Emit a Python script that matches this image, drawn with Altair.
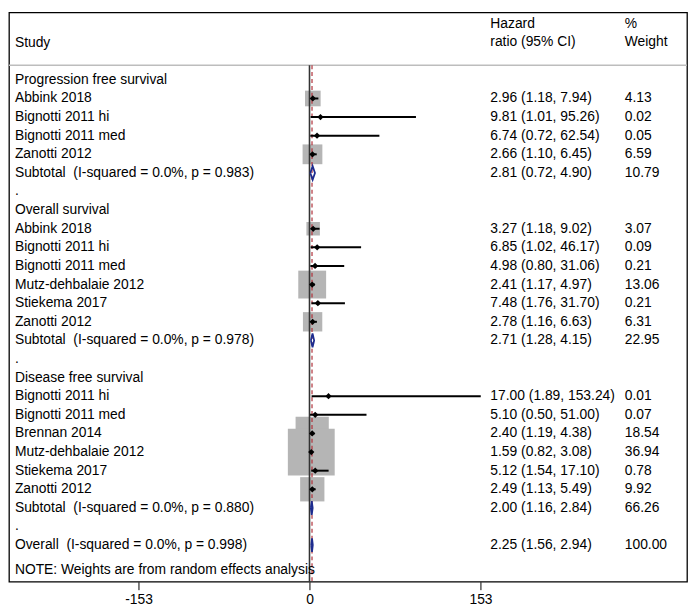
import altair as alt
import pandas as pd

groups = ["Progression free survival", "Overall survival", "Disease free survival"]

pfs_study = ["Abbink 2018", "Bignotti 2011 hi", "Bignotti 2011 med", "Zanotti 2012"]
pfs_hr = [2.96, 9.81, 6.74, 2.66]
pfs_lo = [1.18, 1.01, 0.72, 1.10]
pfs_hi = [7.94, 95.26, 62.54, 6.45]
pfs_wt = [4.13, 0.02, 0.05, 6.59]

os_study = ["Abbink 2018", "Bignotti 2011 hi", "Bignotti 2011 med",
            "Mutz-dehbalaie 2012", "Stiekema 2017", "Zanotti 2012"]
os_hr = [3.27, 6.85, 4.98, 2.41, 7.48, 2.78]
os_lo = [1.18, 1.02, 0.80, 1.17, 1.76, 1.16]
os_hi = [9.02, 46.17, 31.06, 4.97, 31.70, 6.63]
os_wt = [3.07, 0.09, 0.21, 13.06, 0.21, 6.31]

dfs_study = ["Bignotti 2011 hi", "Bignotti 2011 med", "Brennan 2014",
             "Mutz-dehbalaie 2012", "Stiekema 2017", "Zanotti 2012"]
dfs_hr = [17.00, 5.10, 2.40, 1.59, 5.12, 2.49]
dfs_lo = [1.89, 0.50, 1.19, 0.82, 1.54, 1.13]
dfs_hi = [153.24, 51.00, 4.38, 3.08, 17.10, 5.49]
dfs_wt = [0.01, 0.07, 18.54, 36.94, 0.78, 9.92]

sub_hr = [2.81, 2.71, 2.00]
sub_lo = [0.72, 1.28, 1.16]
sub_hi = [4.90, 4.15, 2.84]
sub_wt = [10.79, 22.95, 66.26]
sub_i2 = ["0.0%", "0.0%", "0.0%"]
sub_p = ["0.983", "0.978", "0.880"]

overall_vals = [2.25, 1.56, 2.94, 100.00]
overall_i2 = "0.0%"
overall_p = "0.998"

x_ticks = [-153, 0, 153]
note_text = "NOTE: Weights are from random effects analysis"

# ---------------- build table ----------------
group_data = [
    (pfs_study, pfs_hr, pfs_lo, pfs_hi, pfs_wt),
    (os_study, os_hr, os_lo, os_hi, os_wt),
    (dfs_study, dfs_hr, dfs_lo, dfs_hi, dfs_wt),
]
NB = "\u00a0"
rows = []
r = 0
for g, (names, hr, lo, hi, wt) in enumerate(group_data):
    rows.append(dict(r=r, label=groups[g], kind="head"))
    r += 1
    for i in range(len(names)):
        rows.append(dict(r=r, label=names[i], kind="study", est=hr[i], lo=lo[i], hi=hi[i], w=wt[i],
                         hr_text=f"{hr[i]:.2f} ({lo[i]:.2f}, {hi[i]:.2f})", w_text=f"{wt[i]:.2f}"))
        r += 1
    rows.append(dict(r=r, label=f"Subtotal{NB} (I-squared = {sub_i2[g]}, p = {sub_p[g]})", kind="sum",
                     est=sub_hr[g], lo=sub_lo[g], hi=sub_hi[g], w=sub_wt[g],
                     hr_text=f"{sub_hr[g]:.2f} ({sub_lo[g]:.2f}, {sub_hi[g]:.2f})", w_text=f"{sub_wt[g]:.2f}"))
    r += 1
    rows.append(dict(r=r, label=".", kind="blank"))
    r += 1
ov_hr, ov_lo, ov_hi, ov_w = overall_vals
rows.append(dict(r=r, label=f"Overall{NB} (I-squared = {overall_i2}, p = {overall_p})", kind="sum",
                 est=ov_hr, lo=ov_lo, hi=ov_hi, w=ov_w,
                 hr_text=f"{ov_hr:.2f} ({ov_lo:.2f}, {ov_hi:.2f})", w_text=f"{ov_w:.2f}"))
r += 1
rows.append(dict(r=r + 0.33, label=note_text, kind="note"))

df = pd.DataFrame(rows)
df["hr_text"] = df["hr_text"].fillna("")
df["w_text"] = df["w_text"].fillna("")
study_df = df[df.kind == "study"].copy()
study_df["sz"] = study_df["w"] * 60.8
sum_df = df[df.kind == "sum"]

dpts = []
for k, row in enumerate(sum_df.itertuples()):
    h = 0.37
    pts = [(row.lo, row.r), (row.est, row.r - h), (row.hi, row.r), (row.est, row.r + h), (row.lo, row.r)]
    for o, (xx, yy) in enumerate(pts):
        dpts.append(dict(id=k, o=o, x=xx, y=yy))
diam_df = pd.DataFrame(dpts)

header_df = pd.DataFrame([
    dict(r=-1.98, label="Study", col="a"),
    dict(r=-3.0, label="Hazard", col="b"),
    dict(r=-2.01, label="ratio (95% CI)", col="b"),
    dict(r=-3.0, label="%", col="c"),
    dict(r=-2.01, label="Weight", col="c"),
])

# ---------------- scales ----------------
W, H = 686, 576
xs = alt.Scale(domain=[-268.9, 337.8], nice=False, zero=False)
ys = alt.Scale(domain=[-3.622, 26.97], nice=False, zero=False, reverse=True)
xaxis = alt.Axis(values=x_ticks, title=None, grid=False, domain=False, tickSize=8,
                 tickColor="black", tickWidth=1, labelFontSize=14, labelColor="black",
                 labelFont="Liberation Sans", labelPadding=3, labelExpr="'' + datum.value")

FONT = "Liberation Sans"
XA, XB, XC = 6, 487, 623

hdr_line = alt.Chart(pd.DataFrame({"r": [-0.79]})).mark_rule(color="#bdbdbd", strokeWidth=1.5).encode(
    y=alt.Y("r:Q", scale=ys, axis=None), x=alt.value(0), x2=alt.value(W))

lines_df = pd.DataFrame({"x": [0.0], "r1": [-0.79], "r2": [26.97]})
zero_line = alt.Chart(lines_df).mark_rule(color="#333333", strokeWidth=1.6).encode(
    x=alt.X("x:Q", scale=xs, axis=xaxis), y=alt.Y("r1:Q", scale=ys, axis=None), y2="r2:Q")

ov_df = pd.DataFrame({"x": [ov_hr], "r1": [-0.79], "r2": [26.97]})
ov_line = alt.Chart(ov_df).mark_rule(color="#b0303a", strokeWidth=1.2, strokeDash=[4, 3]).encode(
    x=alt.X("x:Q", scale=xs, axis=xaxis), y=alt.Y("r1:Q", scale=ys, axis=None), y2="r2:Q")

boxes = alt.Chart(study_df).mark_square(color="#b5b5b5", opacity=1).encode(
    x=alt.X("est:Q", scale=xs, axis=xaxis), y=alt.Y("r:Q", scale=ys, axis=None),
    size=alt.Size("sz:Q", scale=None, legend=None))

cis = alt.Chart(study_df).mark_rule(color="black", strokeWidth=2).encode(
    x=alt.X("lo:Q", scale=xs, axis=xaxis), x2="hi:Q", y=alt.Y("r:Q", scale=ys, axis=None))

pts = alt.Chart(study_df).mark_point(shape="diamond", filled=True, color="black", size=40, opacity=1).encode(
    x=alt.X("est:Q", scale=xs, axis=xaxis), y=alt.Y("r:Q", scale=ys, axis=None))

diam = alt.Chart(diam_df).mark_line(color="#1d2c8f", strokeWidth=1.8).encode(
    x=alt.X("x:Q", scale=xs, axis=xaxis), y=alt.Y("y:Q", scale=ys, axis=None),
    detail="id:N", order="o:Q")

def txt(data, field, xpos):
    return alt.Chart(data).mark_text(align="left", baseline="middle", font=FONT, fontSize=14,
                                     color="black").encode(
        y=alt.Y("r:Q", scale=ys, axis=None), x=alt.value(xpos), text=f"{field}:N")

t_label = txt(df, "label", XA)
t_hr = txt(df, "hr_text", XB)
t_w = txt(df, "w_text", XC)
h_a = txt(header_df[header_df.col == "a"], "label", XA)
h_b = txt(header_df[header_df.col == "b"], "label", XB)
h_c = txt(header_df[header_df.col == "c"], "label", XC)

chart = alt.layer(hdr_line, boxes, zero_line, ov_line, cis, pts, diam,
                  t_label, t_hr, t_w, h_a, h_b, h_c).properties(
    width=W, height=H,
    padding={"left": 1, "top": 1, "right": 1, "bottom": 22},
    autosize="none",
).configure_view(stroke="black", strokeWidth=1.3)

chart.save("out.html", embed_options={"renderer": "svg", "actions": False})
